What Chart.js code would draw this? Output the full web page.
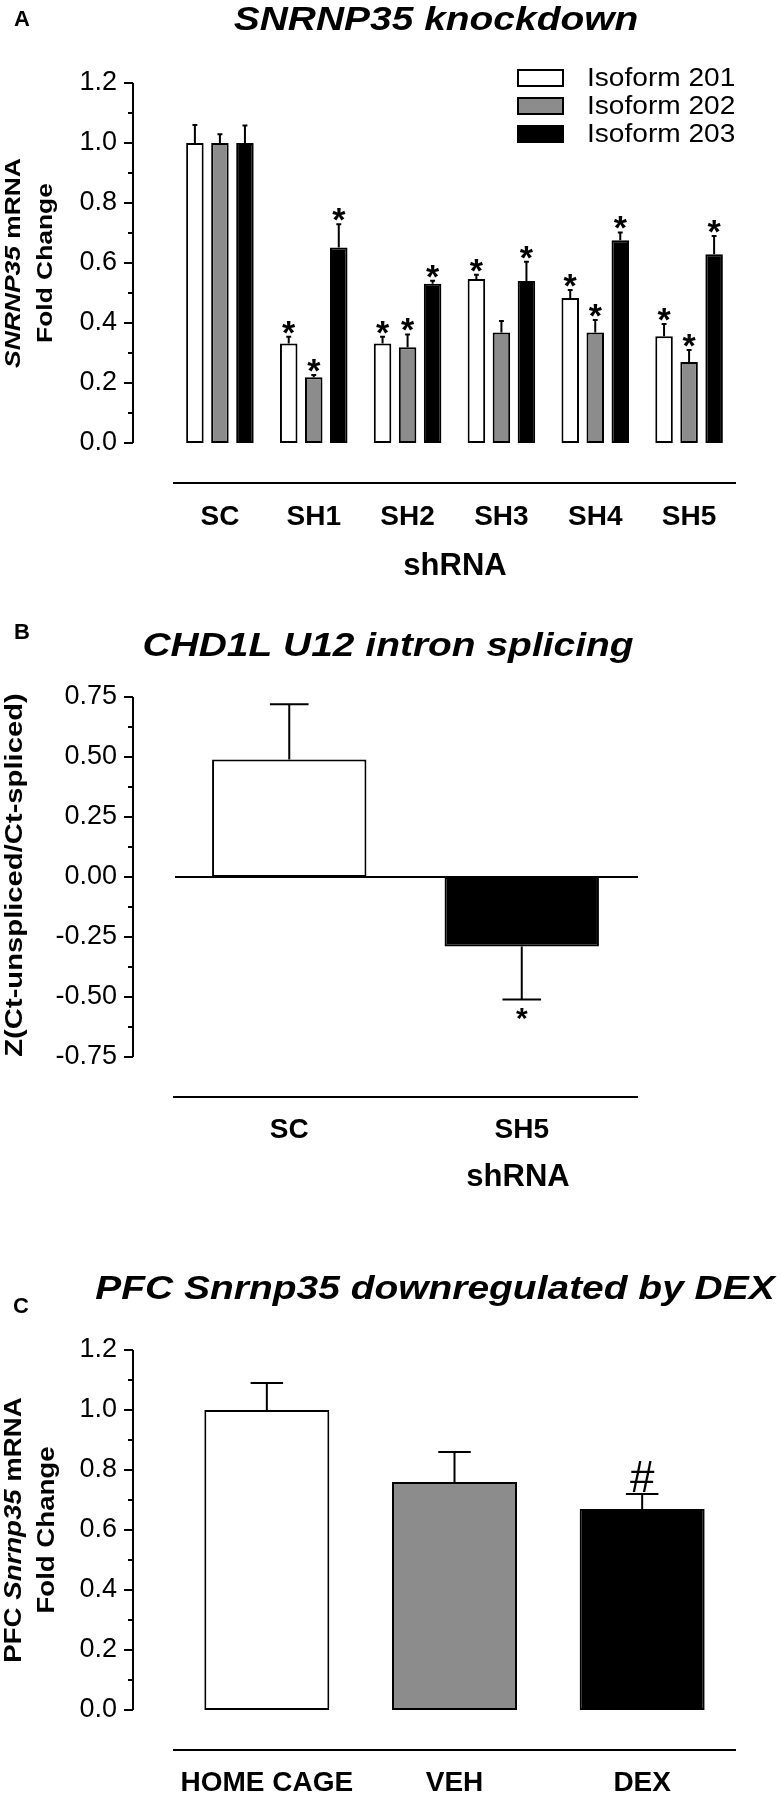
<!DOCTYPE html>
<html lang="en">
<head>
<meta charset="UTF-8">
<title>SNRNP35 knockdown</title>
<script src="https://cdn.jsdelivr.net/npm/chart.js"></script>
<style>
  body { margin: 0; background: #fff; }
  #wrap { position: relative; width: 782px; height: 1800px; }
  canvas { position: absolute; left: 0; }
</style>
</head>
<body>
<div id="wrap">
  <canvas id="chartA" width="782" height="580" style="top:0"></canvas>
  <canvas id="chartB" width="782" height="620" style="top:580px"></canvas>
  <canvas id="chartC" width="782" height="600" style="top:1200px"></canvas>
</div>
<script>
const FONT = '"Liberation Sans", Arial, sans-serif';
const GRAY = '#8c8c8c';

// Panel A: SNRNP35 knockdown
const groupsA = ['SC', 'SH1', 'SH2', 'SH3', 'SH4', 'SH5'];
const isoformNames = ['Isoform 201', 'Isoform 202', 'Isoform 203'];
const iso201 = [1.0, 0.332, 0.332, 0.547, 0.483, 0.356];
const iso202 = [1.0, 0.219, 0.319, 0.368, 0.368, 0.27];
const iso203 = [1.0, 0.652, 0.531, 0.54, 0.676, 0.629];
const iso201Err = [0.06, 0.022, 0.022, 0.014, 0.027, 0.041];
const iso202Err = [0.029, 0.008, 0.043, 0.039, 0.042, 0.04];
const iso203Err = [0.058, 0.077, 0.01, 0.064, 0.026, 0.061];
const iso201Marks = ['', '*', '*', '*', '*', '*'];
const iso202Marks = ['', '*', '*', '', '*', '*'];
const iso203Marks = ['', '*', '*', '*', '*', '*'];

// Panel B: CHD1L U12 intron splicing
const groupsB = ['SC', 'SH5'];
const splicingZ = [0.49, -0.29];
const splicingErr = [0.23, 0.22];
const splicingMarks = ['', '*'];

// Panel C: PFC Snrnp35 by DEX
const groupsC = ['HOME CAGE', 'VEH', 'DEX'];
const pfcFold = [1.0, 0.76, 0.67];
const pfcErr = [0.09, 0.1, 0.05];
const pfcMarks = ['', '', '#'];

// draws a line of mixed bold / bold-italic text, centred on (x, y)
function drawRich(ctx, runs, size, x, y, sx, rotated) {
  ctx.save();
  ctx.translate(x, y);
  if (rotated) ctx.rotate(-Math.PI / 2);
  ctx.scale(sx, 1);
  ctx.textBaseline = 'middle';
  ctx.textAlign = 'left';
  ctx.fillStyle = '#000';
  const fontOf = r => (r.italic ? 'italic ' : '') + (r.normal ? '' : 'bold ') + size + 'px ' + FONT;
  const widths = runs.map(r => { ctx.font = fontOf(r); return ctx.measureText(r.t).width; });
  let cx = -widths.reduce((a, b) => a + b, 0) / 2;
  runs.forEach((r, i) => { ctx.font = fontOf(r); ctx.fillText(r.t, cx, 0); cx += widths[i]; });
  ctx.restore();
}

const decorPlugin = {
  id: 'decor',
  beforeDatasetsDraw(chart, args, opts) {
    const { ctx, chartArea: ca, scales: { y } } = chart;
    ctx.save();
    ctx.strokeStyle = '#000';
    ctx.lineWidth = 2;
    // y axis sits apart from the plot, with minor ticks
    const ax = ca.left - 40;
    ctx.beginPath();
    ctx.moveTo(ax, y.getPixelForValue(y.max));
    ctx.lineTo(ax, y.getPixelForValue(y.min));
    y.ticks.forEach((t, i) => {
      const py = y.getPixelForValue(t.value);
      ctx.moveTo(ax - 9, py); ctx.lineTo(ax, py);
      if (i < y.ticks.length - 1) {
        const my = y.getPixelForValue((t.value + y.ticks[i + 1].value) / 2);
        ctx.moveTo(ax - 5, my); ctx.lineTo(ax, my);
      }
    });
    ctx.stroke();
    // separator line above the group labels
    ctx.beginPath();
    ctx.moveTo(ca.left, ca.bottom + 40);
    ctx.lineTo(ca.right, ca.bottom + 40);
    ctx.stroke();
    if (opts.zeroLine) {
      const zy = y.getPixelForValue(0);
      ctx.beginPath();
      ctx.moveTo(ca.left + 2, zy);
      ctx.lineTo(ca.right, zy);
      ctx.stroke();
    }
    ctx.restore();
  },
  afterDatasetsDraw(chart, args, opts) {
    const { ctx, scales: { y } } = chart;
    ctx.save();
    chart.data.datasets.forEach((ds, di) => {
      const meta = chart.getDatasetMeta(di);
      meta.data.forEach((bar, i) => {
        const v = ds.data[i];
        const dir = v < 0 ? -1 : 1;
        const yTop = y.getPixelForValue(v);
        const yEnd = y.getPixelForValue(v + dir * ds.errors[i]);
        const half = bar.width * opts.capRatio / 2;
        ctx.strokeStyle = '#000';
        ctx.lineWidth = 2;
        ctx.beginPath();
        ctx.moveTo(bar.x, yTop); ctx.lineTo(bar.x, yEnd);
        ctx.moveTo(bar.x - half, yEnd); ctx.lineTo(bar.x + half, yEnd);
        ctx.stroke();
        const mark = ds.marks[i];
        if (mark) {
          ctx.font = opts.markFont + ' ' + FONT;
          ctx.fillStyle = '#000';
          ctx.textAlign = 'center';
          ctx.textBaseline = 'alphabetic';
          const m = ctx.measureText(mark);
          const base = dir > 0
            ? yEnd - opts.markGap - m.actualBoundingBoxDescent
            : yEnd + opts.markGap + m.actualBoundingBoxAscent;
          ctx.fillText(mark, bar.x, base);
        }
      });
    });
    ctx.restore();
  },
  afterDraw(chart, args, opts) {
    const { ctx, chartArea: ca } = chart;
    drawRich(ctx, [{ t: opts.letter }], 22, opts.letterPos[0], opts.letterPos[1], 1, false);
    drawRich(ctx, [{ t: opts.title, italic: true }], 33, opts.titlePos[0], opts.titlePos[1], 1.18, false);
    opts.yTitle.forEach((runs, i) => {
      drawRich(ctx, runs, opts.yTitleSize, opts.yTitleX[i], opts.yTitleY, opts.yTitleSx, true);
    });
    if (opts.xTitle) drawRich(ctx, [{ t: opts.xTitle }], 31, opts.xTitlePos[0], opts.xTitlePos[1], 1, false);
    if (opts.legend) {
      ctx.save();
      chart.data.datasets.forEach((ds, i) => {
        const cy = ca.top - 5 + i * 28;
        ctx.fillStyle = ds.backgroundColor;
        ctx.strokeStyle = '#000';
        ctx.lineWidth = 2;
        ctx.fillRect(ca.right - 218, cy - 8, 45, 16);
        ctx.strokeRect(ca.right - 218, cy - 8, 45, 16);
        ctx.save();
        ctx.translate(ca.right - 149, cy);
        ctx.scale(1.08, 1);
        ctx.fillStyle = '#000';
        ctx.font = '26px ' + FONT;
        ctx.textAlign = 'left';
        ctx.textBaseline = 'middle';
        ctx.fillText(ds.label, 0, 1);
        ctx.restore();
      });
      ctx.restore();
    }
  }
};

function yScale(min, max, step, digits, left) {
  return {
    min: min, max: max,
    ticks: {
      stepSize: step, padding: 56, color: '#000',
      font: { family: FONT, size: 27 },
      callback: v => Number(v).toFixed(digits)
    },
    grid: { display: false, drawTicks: false },
    border: { display: false },
    afterFit: s => { s.width = left; }
  };
}

function xScale(height, pad) {
  return {
    ticks: {
      padding: pad, color: '#000', autoSkip: false, maxRotation: 0,
      font: { family: FONT, size: 28, weight: 'bold' }
    },
    grid: { display: false, drawTicks: false },
    border: { display: false },
    afterFit: s => { s.height = height; }
  };
}

function barSet(label, data, errors, marks, color) {
  return {
    label: label, data: data, errors: errors, marks: marks,
    backgroundColor: color, borderColor: '#000', borderWidth: 2, borderSkipped: false
  };
}

const baseOptions = {
  responsive: false,
  animation: false,
  devicePixelRatio: 1,
  events: []
};

// Panel A
new Chart(document.getElementById('chartA'), {
  type: 'bar',
  data: {
    labels: groupsA,
    datasets: [
      barSet(isoformNames[0], iso201, iso201Err, iso201Marks, '#ffffff'),
      barSet(isoformNames[1], iso202, iso202Err, iso202Marks, GRAY),
      barSet(isoformNames[2], iso203, iso203Err, iso203Marks, '#000000')
    ]
  },
  options: Object.assign({}, baseOptions, {
    layout: { padding: { top: 83, right: 46, left: 0, bottom: 0 } },
    datasets: { bar: { categoryPercentage: 0.8, barPercentage: 0.7 } },
    scales: { x: xScale(137, 57), y: yScale(0, 1.2, 0.2, 1, 173) },
    plugins: {
      legend: { display: false }, tooltip: { enabled: false },
      decor: {
        letter: 'A', letterPos: [22, 20],
        title: 'SNRNP35 knockdown', titlePos: [436, 21],
        yTitle: [[{ t: 'SNRNP35', italic: true }, { t: ' mRNA' }], [{ t: 'Fold Change' }]],
        yTitleX: [14, 46], yTitleY: 263, yTitleSize: 22, yTitleSx: 1.2,
        xTitle: 'shRNA', xTitlePos: [455, 566],
        legend: true, capRatio: 0.28, markFont: 'bold 34px', markGap: 3
      }
    }
  }),
  plugins: [decorPlugin]
});

// Panel B
new Chart(document.getElementById('chartB'), {
  type: 'bar',
  data: {
    labels: groupsB,
    datasets: [barSet('Z', splicingZ, splicingErr, splicingMarks, ['#ffffff', '#000000'])]
  },
  options: Object.assign({}, baseOptions, {
    layout: { padding: { top: 117, right: 144, left: 0, bottom: 0 } },
    datasets: { bar: { categoryPercentage: 1, barPercentage: 0.664 } },
    scales: { x: xScale(143, 56), y: yScale(-0.75, 0.75, 0.25, 2, 173) },
    plugins: {
      legend: { display: false }, tooltip: { enabled: false },
      decor: {
        letter: 'B', letterPos: [22, 53],
        title: 'CHD1L U12 intron splicing', titlePos: [388, 67],
        yTitle: [[{ t: 'Z(Ct-unspliced/Ct-spliced)' }]],
        yTitleX: [16], yTitleY: 295, yTitleSize: 23, yTitleSx: 1.27,
        xTitle: 'shRNA', xTitlePos: [518, 597],
        zeroLine: true, capRatio: 0.25, markFont: 'bold 30px', markGap: 9
      }
    }
  }),
  plugins: [decorPlugin]
});

// Panel C
new Chart(document.getElementById('chartC'), {
  type: 'bar',
  data: {
    labels: groupsC,
    datasets: [barSet('Fold', pfcFold, pfcErr, pfcMarks, ['#ffffff', GRAY, '#000000'])]
  },
  options: Object.assign({}, baseOptions, {
    layout: { padding: { top: 150, right: 46, left: 0, bottom: 0 } },
    datasets: { bar: { categoryPercentage: 1, barPercentage: 0.666 } },
    scales: { x: xScale(90, 56), y: yScale(0, 1.2, 0.2, 1, 173) },
    plugins: {
      legend: { display: false }, tooltip: { enabled: false },
      decor: {
        letter: 'C', letterPos: [21, 107],
        title: 'PFC Snrnp35 downregulated by DEX', titlePos: [435, 90],
        yTitle: [[{ t: 'PFC ' }, { t: 'Snrnp35', italic: true }, { t: ' mRNA' }], [{ t: 'Fold Change' }]],
        yTitleX: [15, 48], yTitleY: 330, yTitleSize: 23, yTitleSx: 1.2,
        capRatio: 0.26, markFont: '44px', markGap: 2
      }
    }
  }),
  plugins: [decorPlugin]
});
</script>
</body>
</html>
